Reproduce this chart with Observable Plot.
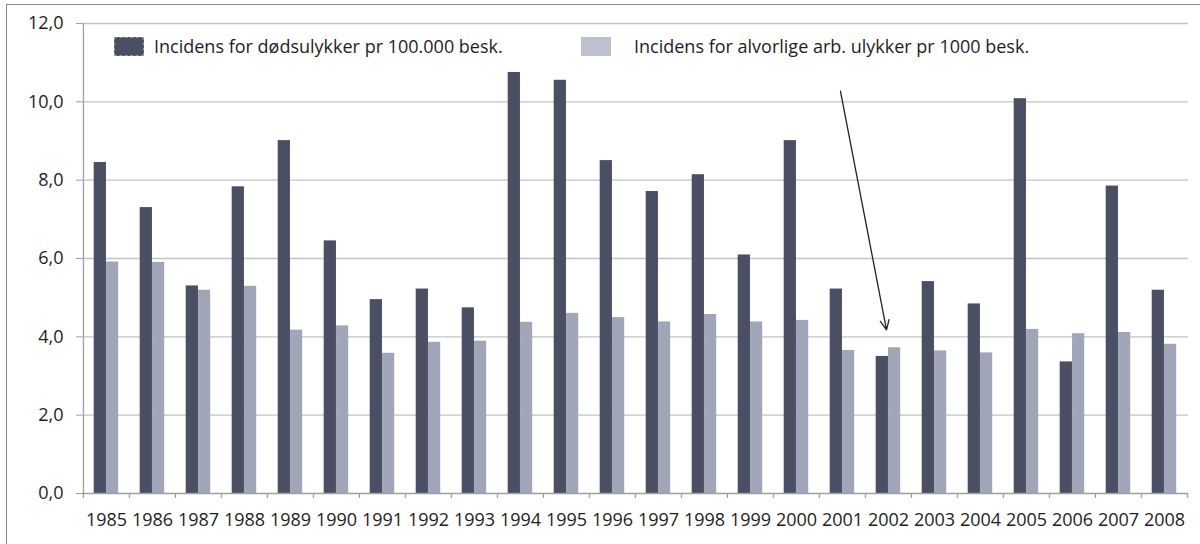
<!DOCTYPE html>
<html>
<head>
<meta charset="utf-8">
<script src="https://cdn.jsdelivr.net/npm/d3@7"></script>
<script src="https://cdn.jsdelivr.net/npm/@observablehq/plot@0.6"></script>
<style>
  html, body { margin: 0; padding: 0; background: #fff; }
  #wrap { position: relative; width: 1200px; height: 544px; overflow: hidden; font-family: "Open Sans", sans-serif; }
  #border { position: absolute; left: 6px; top: 4px; right: -10px; bottom: -10px; border-top: 1.5px solid #8a8a8a; border-left: 1.5px solid #8a8a8a; pointer-events: none; }
  .leg { position: absolute; font-size: 18px; color: #1e1e1e; white-space: nowrap; line-height: 1; }
  .sw { position: absolute; width: 30px; height: 19px; box-sizing: border-box; }
  svg { position: absolute; left: 0; top: 0; }
</style>
</head>
<body>
<div id="wrap">
  <div id="chart"></div>
  <div class="sw" style="left:114px; top:37px; background:#4a4f63; border:1px dashed #9a9a9a;"></div>
  <div class="leg" style="left:154px; top:37px;">Incidens for dødsulykker pr 100.000 besk.</div>
  <div class="sw" style="left:581px; top:37px; background:#bdc0cd;"></div>
  <div class="leg" style="left:634px; top:37px;">Incidens for alvorlige arb. ulykker pr 1000 besk.</div>
  <div id="border"></div>
</div>
<script>
const years = [1985,1986,1987,1988,1989,1990,1991,1992,1993,1994,1995,1996,1997,1998,1999,2000,2001,2002,2003,2004,2005,2006,2007,2008];
const fatal   = [8.45,7.30,5.30,7.83,9.01,6.45,4.95,5.22,4.74,10.75,10.55,8.50,7.71,8.14,6.09,9.01,5.22,3.50,5.41,4.84,10.08,3.36,7.85,5.19];
const serious = [5.91,5.90,5.19,5.29,4.17,4.28,3.58,3.86,3.89,4.37,4.60,4.49,4.38,4.57,4.38,4.42,3.65,3.72,3.64,3.59,4.19,4.08,4.11,3.81];
const yTicks = [0,2,4,6,8,10,12];
const arrowNote = [{fromYear: 2001, fromValue: 10.27, toYear: 2002, toValue: 4.18}];

const data = years.map((year, i) => ({year, fatal: fatal[i], serious: serious[i]}));

const W = 1200, H = 544, mL = 82, mR = 12, mT = 23, mB = 51;
const bw = (W - mL - mR) / years.length;
const axisColor = "#a0a0a0";

const chart = Plot.plot({
  width: W, height: H,
  marginLeft: mL, marginRight: mR, marginTop: mT, marginBottom: mB,
  style: {fontFamily: "Open Sans, sans-serif", fontSize: "18px", color: "#1e1e1e", background: "transparent"},
  x: {type: "band", domain: years, padding: 0},
  y: {domain: [0, 12]},
  marks: [
    Plot.ruleY(yTicks.filter(d => d > 0), {stroke: "#c3c3c3", strokeWidth: 1.4}),
    Plot.barY(data, {x: "year", y: "fatal", fill: "#4a4f63", insetLeft: 10.7, insetRight: bw - 23.04}),
    Plot.barY(data, {x: "year", y: "serious", fill: "#a0a5b8", insetLeft: 23.04, insetRight: 10.8}),
    Plot.ruleY([0], {stroke: axisColor, strokeWidth: 1.3}),
    Plot.ruleX([years[0]], {x: d => d, y1: 0, y2: 12, dx: -bw / 2, stroke: axisColor, strokeWidth: 1.3}),
    Plot.ruleX(years, {x: d => d, y1: 0, y2: 0, insetBottom: -5, dx: -bw / 2, stroke: axisColor, strokeWidth: 1.3}),
    Plot.ruleX([years[years.length - 1]], {x: d => d, y1: 0, y2: 0, insetBottom: -5, dx: bw / 2, stroke: axisColor, strokeWidth: 1.3}),
    Plot.axisY({ticks: yTicks, tickSize: 6, tickPadding: 13, stroke: axisColor, tickFormat: d => d.toFixed(1).replace(".", ","), fontSize: 18, fill: "#1e1e1e"}),
    Plot.axisX({tickSize: 0, tickPadding: 20, tickFormat: d => String(d), fontSize: 18, fill: "#1e1e1e"}),
    Plot.arrow(arrowNote, {x1: "fromYear", y1: "fromValue", x2: "toYear", y2: "toValue", stroke: "#222", strokeWidth: 1.3, headLength: 12, headAngle: 50, dx: -2})
  ]
});
document.getElementById("chart").appendChild(chart);
</script>
</body>
</html>
